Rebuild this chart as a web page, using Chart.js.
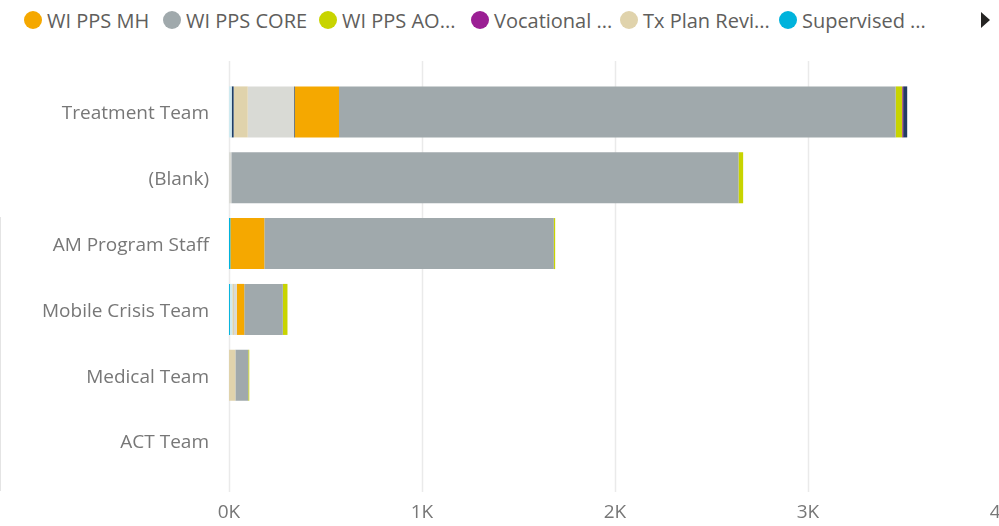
<!DOCTYPE html>
<html>
<head>
<meta charset="utf-8">
<script src="https://cdn.jsdelivr.net/npm/chart.js@4.4.1/dist/chart.umd.min.js"></script>
<style>
  html, body { margin: 0; padding: 0; width: 999px; height: 526px; overflow: hidden; background: #fff; }
  body { position: relative; font-family: "Segoe UI", "Open Sans", sans-serif; }
  #wrap { position: absolute; left: 0; top: 0; width: 1040px; height: 526px; }
  #legend { position: absolute; left: 0; top: 0; width: 999px; height: 42px; }
  .li { position: absolute; top: 8px; height: 24px; display: flex; align-items: center; white-space: nowrap; color: #605E5C; font-size: 20px; }
  .dot { width: 18px; height: 18px; border-radius: 50%; margin-right: 5px; flex: none; }
  #arrow { position: absolute; left: 981px; top: 12px; width: 0; height: 0; border-top: 8px solid transparent; border-bottom: 8px solid transparent; border-left: 9px solid #252423; }
  #edge { position: absolute; left: 0; top: 217px; width: 1px; height: 274px; background: #e4e4e4; }
</style>
</head>
<body>
<div id="legend"></div>
<div id="arrow"></div>
<div id="edge"></div>
<div id="wrap"><canvas id="c" width="1040" height="526"></canvas></div>
<script>
// ---- data ----
const categories = ["Treatment Team", "(Blank)", "AM Program Staff", "Mobile Crisis Team", "Medical Team", "ACT Team"];
const xTicks = [0, 1000, 2000, 3000, 4000];

const supervised = [0, 0, 7, 5, 0, 0];
const otherPaleBlue = [14, 0, 0, 12, 0, 0];
const otherNavyA = [10, 0, 0, 0, 0, 0];
const txPlanReview = [73, 0, 0, 9, 33, 0];
const otherLightGray = [240, 12, 0, 14, 0, 0];
const otherDarkGray = [5, 0, 0, 0, 0, 0];
const wiPpsMH = [228, 0, 176, 39, 0, 0];
const wiPpsCore = [2884, 2628, 1500, 200, 67, 0];
const wiPpsAO = [34, 24, 7, 24, 5, 0];
const vocational = [5, 0, 0, 0, 0, 0];
const otherNavyB = [21, 0, 0, 0, 0, 0];

// legend as shown (truncated names)
const legendNames = ["WI PPS MH", "WI PPS CORE", "WI PPS AO...", "Vocational ...", "Tx Plan Revi...", "Supervised ..."];
const legendColors = ["#F5A800", "#A0A9AC", "#C8D400", "#9B1F94", "#E0D3AC", "#00B3DC"];
const legendX = [24, 163, 319, 471, 620, 779];

// ---- legend (HTML) ----
const lg = document.getElementById('legend');
legendNames.forEach((n, i) => {
  const d = document.createElement('div');
  d.className = 'li';
  d.style.left = legendX[i] + 'px';
  d.innerHTML = '<span class="dot" style="background:' + legendColors[i] + '"></span><span>' + n + '</span>';
  lg.appendChild(d);
});

// ---- chart ----
const series = [
  { label: "Supervised ...", data: supervised, color: "#00B3DC" },
  { label: "Other (pale blue)", data: otherPaleBlue, color: "#CFEAF0" },
  { label: "Other (navy)", data: otherNavyA, color: "#1F3E66" },
  { label: "Tx Plan Revi...", data: txPlanReview, color: "#E0D3AC" },
  { label: "Other (light gray)", data: otherLightGray, color: "#D9DAD5" },
  { label: "Other (dark gray)", data: otherDarkGray, color: "#66737A" },
  { label: "WI PPS MH", data: wiPpsMH, color: "#F5A800" },
  { label: "WI PPS CORE", data: wiPpsCore, color: "#A0A9AC" },
  { label: "WI PPS AO...", data: wiPpsAO, color: "#C8D400" },
  { label: "Vocational ...", data: vocational, color: "#9B1F94" },
  { label: "Other (navy 2)", data: otherNavyB, color: "#233C62" }
];

const gridPlugin = {
  id: 'extGrid',
  beforeDatasetsDraw(chart) {
    const xs = chart.scales.x;
    const ctx = chart.ctx;
    ctx.save();
    ctx.strokeStyle = '#EAEAEA';
    ctx.lineWidth = 1.5;
    xs.ticks.forEach(t => {
      const px = Math.round(xs.getPixelForValue(t.value)) + 0.5;
      ctx.beginPath();
      ctx.moveTo(px, 61);
      ctx.lineTo(px, 492);
      ctx.stroke();
    });
    ctx.restore();
  }
};

new Chart(document.getElementById('c'), {
  type: 'bar',
  data: {
    labels: categories,
    datasets: series.map(s => ({
      label: s.label,
      data: s.data,
      backgroundColor: s.color,
      borderWidth: 0,
      barPercentage: 0.775,
      categoryPercentage: 1
    }))
  },
  options: {
    indexAxis: 'y',
    responsive: false,
    animation: false,
    layout: { padding: { top: 79, right: 39, bottom: 0, left: 0 } },
    plugins: { legend: { display: false }, tooltip: { enabled: false } },
    scales: {
      x: {
        stacked: true,
        min: 0, max: 4000,
        afterBuildTicks: (s) => { s.ticks = xTicks.map(v => ({ value: v })); },
        afterFit: (s) => { s.height = 52; },
        grid: { display: false, drawTicks: false },
        border: { display: false },
        ticks: {
          padding: 27,
          color: '#777777',
          font: { family: '"Segoe UI", "Open Sans", sans-serif', size: 19 },
          callback: (v) => (v / 1000) + 'K',
          maxRotation: 0
        }
      },
      y: {
        stacked: true,
        afterFit: (s) => { s.width = 229; },
        grid: { display: false, drawTicks: false },
        border: { display: false },
        ticks: {
          padding: 20,
          labelOffset: 2,
          color: '#777777',
          font: { family: '"Segoe UI", "Open Sans", sans-serif', size: 19 }
        }
      }
    }
  },
  plugins: [gridPlugin]
});
</script>
</body>
</html>
